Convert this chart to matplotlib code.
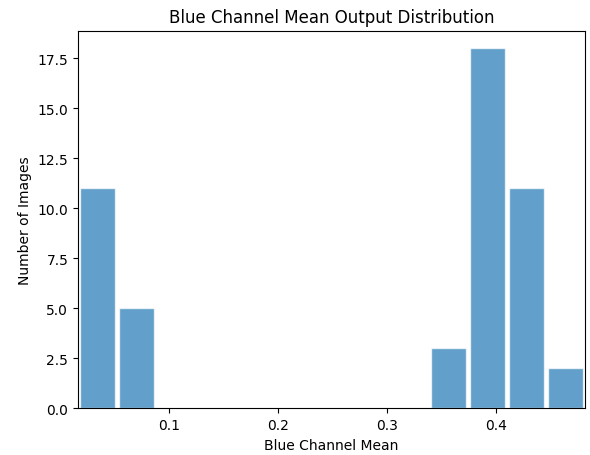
import numpy as np
import matplotlib
matplotlib.use("Agg")
import matplotlib.pyplot as plt

# histogram bins (13 equal bins)
bin_start = 0.0162
bin_end = 0.4814
counts = [11, 5, 0, 0, 0, 0, 0, 0, 0, 3, 18, 11, 2]

edges = np.linspace(bin_start, bin_end, len(counts) + 1)
centers = (edges[:-1] + edges[1:]) / 2

fig = plt.figure(figsize=(5.9, 4.56), dpi=100)
ax = fig.add_axes([78 / 590, 1 - 409.3 / 456, (585 - 78) / 590, (409.3 - 31.5) / 456])

ax.hist(centers, bins=edges, weights=counts, rwidth=0.9,
        color="#1f77b4", alpha=0.7, edgecolor="white")
ax.set_xlim(edges[0], edges[-1])
ax.set_xticks([0.1, 0.2, 0.3, 0.4])

ax.set_title("Blue Channel Mean Output Distribution")
ax.set_xlabel("Blue Channel Mean")
ax.set_ylabel("Number of Images")

fig.savefig("out.png", dpi=100)
